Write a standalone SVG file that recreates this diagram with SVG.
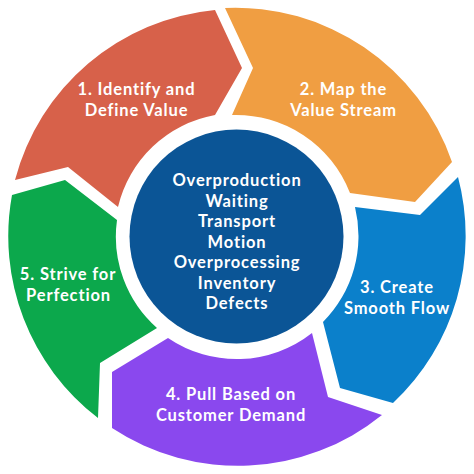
<svg xmlns="http://www.w3.org/2000/svg" width="474" height="474" viewBox="0 0 474 474">
<style>
.t{font-family:Lato,"Open Sans","Liberation Sans",sans-serif;font-weight:bold;font-size:16.5px;fill:#ffffff;text-anchor:middle;letter-spacing:0.85px}
</style>
<rect width="474" height="474" fill="#ffffff"/>
<g id="step1">
<path d="M15,180 A229,229 0 0 1 215,10 L242,68 L215,115 A122,122 0 0 0 118,207 L68,167 Z" fill="#D7614A"/>
<text class="t" x="136.5" y="95">1. Identify and</text>
<text class="t" x="136.5" y="116">Define Value</text>
</g>
<g id="step2">
<path d="M225,8 A229,229 0 0 1 452,162 L415,202 L350,193 A122,122 0 0 0 232,115 L253,68 Z" fill="#F09E42"/>
<text class="t" x="343.5" y="95">2. Map the</text>
<text class="t" x="343.5" y="116">Value Stream</text>
</g>
<g id="step3">
<path d="M458,177 A229,229 0 0 1 393,403 L340,388 L323,322 A122,122 0 0 0 355,207 L420,215 Z" fill="#0B80CB"/>
<text class="t" x="397" y="293">3. Create</text>
<text class="t" x="397" y="314">Smooth Flow</text>
</g>
<g id="step4">
<path d="M382,415 A229,229 0 0 1 112,428 L112,372 L168,338 A122,122 0 0 0 312,333 L328,397 Z" fill="#8A48EE"/>
<text class="t" x="231" y="400">4. Pull Based on</text>
<text class="t" x="231" y="421">Customer Demand</text>
</g>
<g id="step5">
<path d="M98,418 A229,229 0 0 1 12,195 L65,180 L117,220 A122,122 0 0 0 157,328 L100,363 Z" fill="#0CA84C"/>
<text class="t" x="68" y="280">5. Strive for</text>
<text class="t" x="68.5" y="301">Perfection</text>
</g>
<g id="center">
<circle cx="236.5" cy="236.5" r="107" fill="#0B5596"/>
<text class="t" x="237" y="186">Overproduction</text>
<text class="t" x="237" y="206.5">Waiting</text>
<text class="t" x="237" y="227">Transport</text>
<text class="t" x="237" y="247.5">Motion</text>
<text class="t" x="237" y="268">Overprocessing</text>
<text class="t" x="237" y="288.5">Inventory</text>
<text class="t" x="237" y="309">Defects</text>
</g>
<g id="connectors"/>
</svg>
